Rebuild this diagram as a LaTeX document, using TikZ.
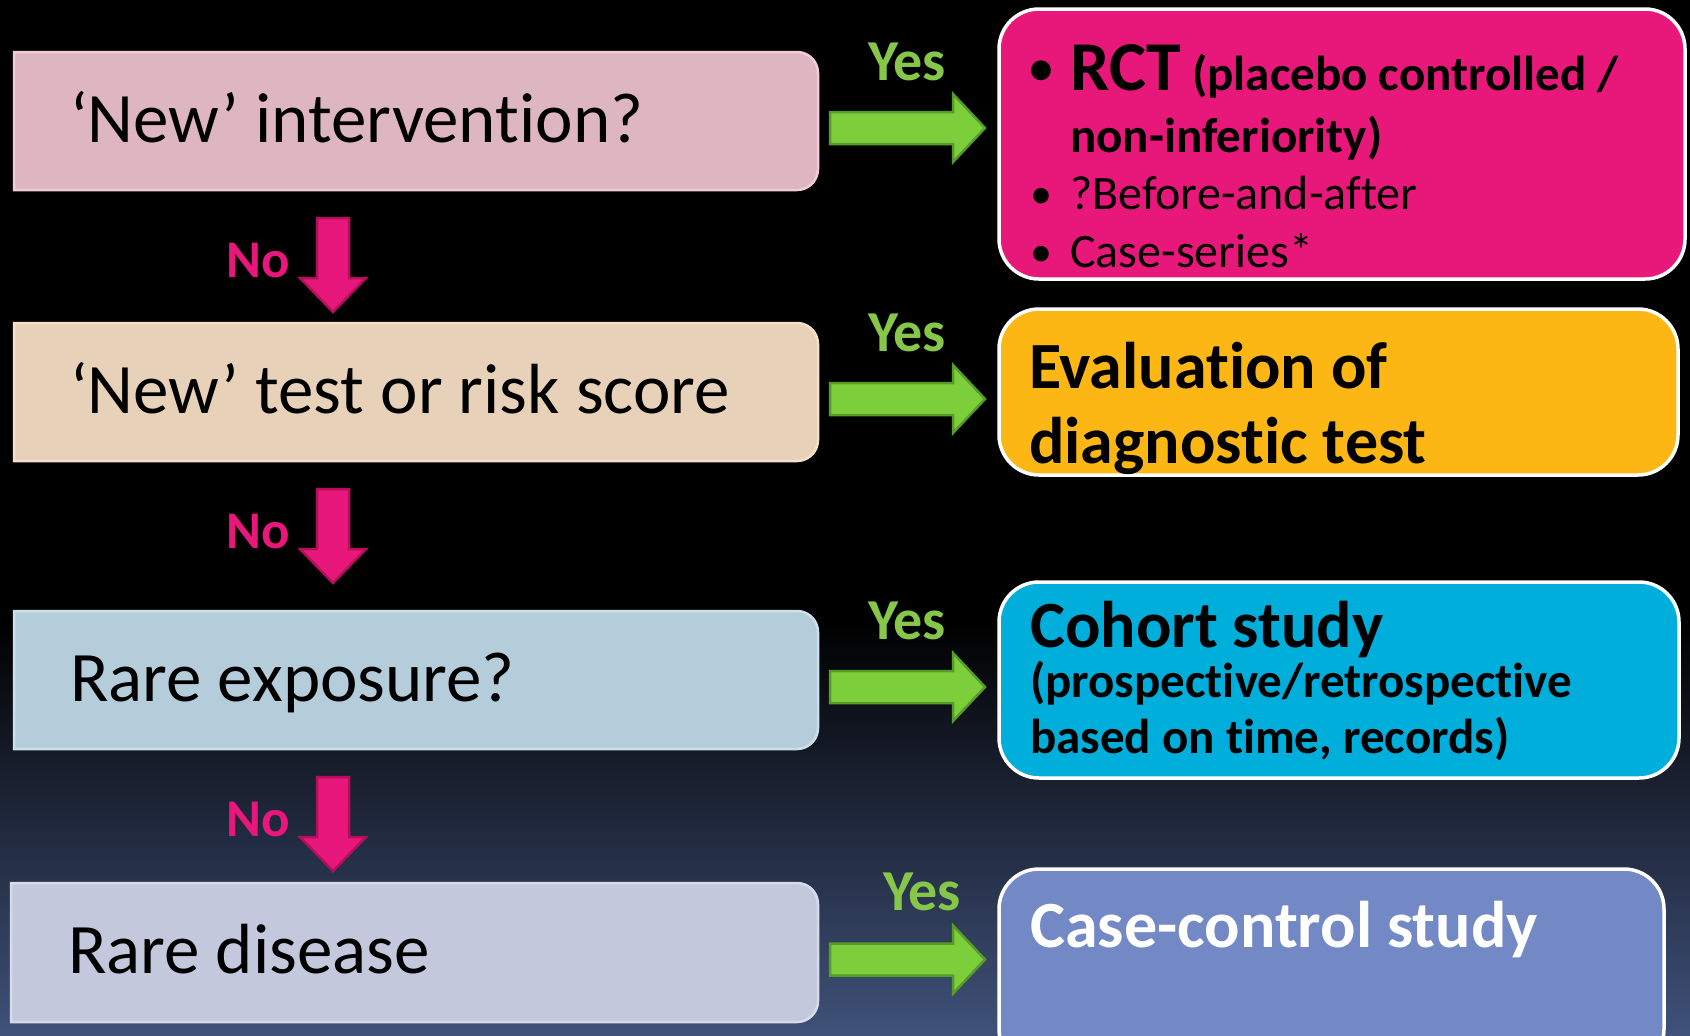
\documentclass[tikz,border=0pt]{standalone}
\usepackage{fontspec}
\setmainfont[Ligatures=NoCommon]{Carlito}
\usetikzlibrary{calc}

\definecolor{bgbot}{RGB}{64,82,122}
\definecolor{qpinkF}{RGB}{222,182,194}
\definecolor{qpinkB}{RGB}{240,204,214}
\definecolor{qpeachF}{RGB}{232,209,185}
\definecolor{qpeachB}{RGB}{245,224,204}
\definecolor{qblueF}{RGB}{181,204,218}
\definecolor{qblueB}{RGB}{204,224,236}
\definecolor{qlilacF}{RGB}{195,200,220}
\definecolor{qlilacB}{RGB}{214,219,234}
\definecolor{amagenta}{RGB}{232,24,122}
\definecolor{aorange}{RGB}{253,183,20}
\definecolor{acyan}{RGB}{0,174,219}
\definecolor{aperi}{RGB}{114,137,198}
\definecolor{yesF}{RGB}{124,206,58}
\definecolor{yesB}{RGB}{88,156,40}
\definecolor{yestxt}{RGB}{134,199,74}
\definecolor{noF}{RGB}{232,23,123}
\definecolor{noB}{RGB}{180,16,90}

\tikzset{
  qbox/.style={minimum height=138pt, anchor=north west, inner sep=0pt, outer sep=0pt},
  abox/.style={draw=white, line width=3.5pt, rounded corners=40pt, anchor=north west,
               inner sep=0pt, outer sep=0pt},
  qtext/.style={anchor=base west, inner sep=0pt, text=black, font=\fontsize{71}{80}\selectfont},
  headtext/.style={anchor=base west, inner sep=0pt, font=\fontsize{66}{72}\selectfont\bfseries},
  subtext/.style={anchor=base west, inner sep=0pt, font=\fontsize{49}{56}\selectfont\bfseries},
  itemtext/.style={anchor=base west, inner sep=0pt, font=\fontsize{48}{56}\selectfont},
  bullet/.style={anchor=base, inner sep=0pt},
  yeslabel/.style={anchor=base, inner sep=0pt, text=yestxt, font=\fontsize{58}{60}\selectfont\bfseries},
  nolabel/.style={anchor=base, inner sep=0pt, text=noF, font=\fontsize{53}{60}\selectfont\bfseries},
  yesarr/.style={fill=yesF, draw=yesB, line width=2.5pt, line join=miter},
  noarr/.style={fill=noF, draw=noB, line width=2.5pt, line join=miter}
}

% question box: square left corners, rounded right corners
\newcommand\qshape[3]{%
  \draw[fill=#2, draw=#3, line width=2.5pt]
    (#1.south west) -- (#1.north west) -- (#1.north)
    [rounded corners=21pt] -- (#1.north east) -- (#1.south east) -- (#1.south)
    [sharp corners] -- cycle;}

% green block arrow from a question box to its answer box
\newcommand\yesarrow[2]{%
  \draw[yesarr] let \p1=($(#1.east)+(0,7)$), \p2=(#2.west) in
    (\x1+12pt,\y1+16pt) -- (\x2-46pt,\y1+16pt) -- (\x2-46pt,\y1+34pt) --
    (\x2-14pt,\y1) -- (\x2-46pt,\y1-34pt) -- (\x2-46pt,\y1-16pt) --
    (\x1+12pt,\y1-16pt) -- cycle;}

% magenta block arrow pointing down to the next question box
\newcommand\noarrow[2]{%
  \draw[noarr] let \p1=(#1.south west), \p2=(#2.north west) in
    (\x1+303pt,\y1-28pt) -- (\x1+335pt,\y1-28pt) -- (\x1+335pt,\y1-88pt) --
    (\x1+352pt,\y1-88pt) -- (\x1+319pt,\y1-122pt) -- (\x1+286pt,\y1-88pt) --
    (\x1+303pt,\y1-88pt) -- cycle;}

\begin{document}
\begin{tikzpicture}[x=1pt, y=-1pt]
  \useasboundingbox (0,0) rectangle (1690,1036);
  \clip (0,0) rectangle (1690,1036);

  % background
  \fill[black] (0,0) rectangle (1690,622);
  \shade[top color=black, bottom color=bgbot] (0,620) rectangle (1690,1036);

  % question boxes
  \node[qbox, minimum width=804pt] (q1) at (14,52) {};
  \node[qbox, minimum width=804pt] (q2) at (14,323) {};
  \node[qbox, minimum width=804pt] (q3) at (14,611) {};
  \node[qbox, minimum width=807pt, minimum height=139pt] (q4) at (11,883) {};
  \qshape{q1}{qpinkF}{qpinkB}
  \qshape{q2}{qpeachF}{qpeachB}
  \qshape{q3}{qblueF}{qblueB}
  \qshape{q4}{qlilacF}{qlilacB}

  \node[qtext] (q1t) at ($(q1.north west)+(56,90)$) {‘New’ intervention?};
  \node[qtext] (q2t) at ($(q2.north west)+(56,90)$) {‘New’ test or risk score};
  \node[qtext] (q3t) at ($(q3.north west)+(56,90)$) {Rare exposure?};
  \node[qtext] (q4t) at ($(q4.north west)+(57,90)$) {Rare disease};

  % answer boxes
  \node[abox, fill=amagenta, minimum width=686pt, minimum height=270pt] (a1) at (999,9) {};
  \node[abox, fill=aorange, minimum width=679pt, minimum height=166pt] (a2) at (999,309) {};
  \node[abox, fill=acyan, minimum width=680pt, minimum height=196pt] (a3) at (999,582) {};
  \node[abox, fill=aperi, minimum width=665pt, minimum height=200pt] (a4) at (999,869) {};

  % study designs for a new intervention
  \node[bullet, font=\fontsize{56}{56}\selectfont] (a1b1) at ($(a1.north west)+(42,77)$) {•};
  \node[anchor=base west, inner sep=0pt] (a1l1) at ($(a1.north west)+(71,81)$)
    {\fontsize{70}{70}\selectfont\bfseries RCT\fontsize{49}{56}\selectfont\ (placebo controlled /};
  \node[subtext] (a1l2) at ($(a1.north west)+(71,143)$) {non-inferiority)};
  \node[bullet, font=\fontsize{44}{44}\selectfont] (a1b2) at ($(a1.north west)+(42,199)$) {•};
  \node[itemtext] (a1l3) at ($(a1.north west)+(71,200)$) {?Before-and-after};
  \node[bullet, font=\fontsize{44}{44}\selectfont] (a1b3) at ($(a1.north west)+(42,257)$) {•};
  \node[itemtext] (a1l4) at ($(a1.north west)+(71,258)$) {Case-series*};

  \node[headtext] (a2l1) at ($(a2.north west)+(30,79)$) {Evaluation of};
  \node[headtext] (a2l2) at ($(a2.north west)+(30,154)$) {diagnostic test};

  \node[headtext] (a3l1) at ($(a3.north west)+(31,65)$) {Cohort study};
  \node[subtext] (a3l2) at ($(a3.north west)+(31,115)$) {(prospective/retrospective};
  \node[subtext] (a3l3) at ($(a3.north west)+(31,171)$) {based on time, records)};

  \node[headtext, text=white] (a4l1) at ($(a4.north west)+(31,78)$) {Case-control study};

  % yes arrows and labels
  \yesarrow{q1}{a1}
  \yesarrow{q2}{a2}
  \yesarrow{q3}{a3}
  \yesarrow{q4}{a4}
  \node[yeslabel] (y1) at ($(q1.east)+(89,-41)$) {Yes};
  \node[yeslabel] (y2) at ($(q2.east)+(89,-41)$) {Yes};
  \node[yeslabel] (y3) at ($(q3.east)+(89,-41)$) {Yes};
  \node[yeslabel] (y4) at ($(q4.east)+(104,-42)$) {Yes};

  % no arrows and labels
  \noarrow{q1}{q2}
  \noarrow{q2}{q3}
  \noarrow{q3}{q4}
  \node[nolabel] (n1) at ($(q1.south west)+(244,87)$) {No};
  \node[nolabel] (n2) at ($(q2.south west)+(244,87)$) {No};
  \node[nolabel] (n3) at ($(q3.south west)+(244,87)$) {No};
\end{tikzpicture}
\end{document}
